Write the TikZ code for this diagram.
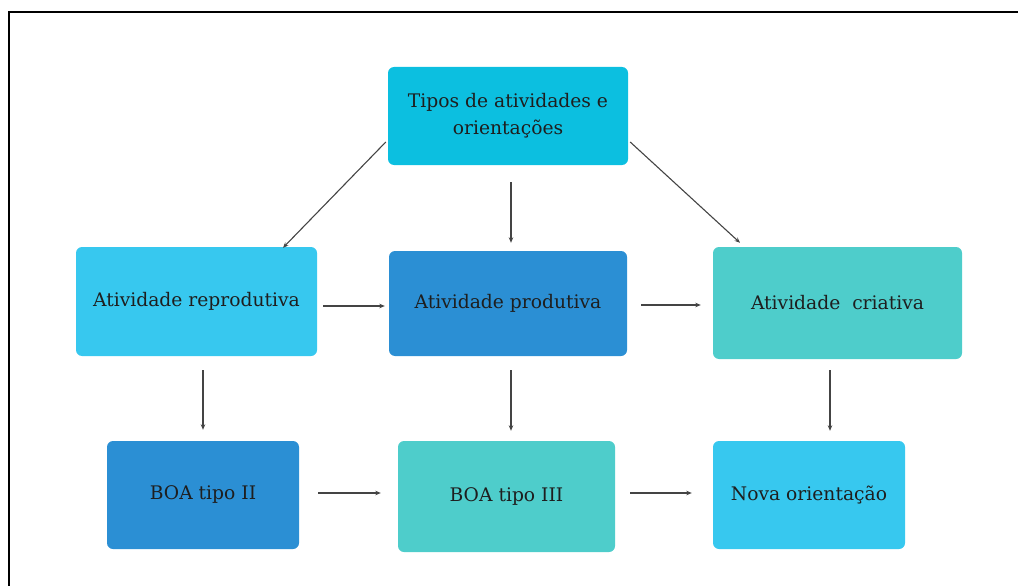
\documentclass[tikz,border=0pt]{standalone}
\usepackage{fontspec}
\setmainfont{DejaVu Serif}
\usetikzlibrary{calc,arrows.meta}
\definecolor{cTop}{HTML}{0CBFE0}
\definecolor{cLight}{HTML}{37C8EF}
\definecolor{cDark}{HTML}{2B8FD4}
\definecolor{cTeal}{HTML}{4ECDCB}
\definecolor{cText}{HTML}{1E1E1E}
\definecolor{cArrow}{HTML}{444444}
\tikzset{
  box/.style={rectangle, rounded corners=6pt, draw=none, align=center,
    text=cText, font=\fontsize{18.7}{27}\selectfont, inner sep=2pt},
  conn/.style={draw=cArrow, line width=1.1pt, -{Stealth[length=5.5pt,width=4.5pt]}}
}
\begin{document}
\begin{tikzpicture}[x=1pt,y=-1pt]
\useasboundingbox (0,0) rectangle (1018,586);
\draw[line width=2pt, black] (9,586) -- (9,12) -- (1018,12);

\node[box, fill=cTop, minimum width=240pt, minimum height=98pt] (top) at (508,116) {Tipos de atividades e\\orientações};
\node[box, fill=cLight, minimum width=241pt, minimum height=109pt] (rep) at (196.5,301.5) {Atividade reprodutiva};
\node[box, fill=cDark, minimum width=238pt, minimum height=105pt] (pro) at (508,303.5) {Atividade produtiva};
\node[box, fill=cTeal, minimum width=249pt, minimum height=112pt] (cri) at (837.5,303) {Atividade\ \ criativa};
\node[box, fill=cDark, minimum width=192pt, minimum height=108pt] (b2) at (203,495) {BOA tipo II};
\node[box, fill=cTeal, minimum width=217pt, minimum height=111pt] (b3) at (506.5,496.5) {BOA tipo III};
\node[box, fill=cLight, minimum width=192pt, minimum height=108pt] (nova) at (809,495) {Nova orientação};

\draw[conn] ($(top.west)+(-2,26)$) -- ($(rep.north)+(86.5,1)$);
\draw[conn] ($(top.south)+(3,17)$) -- ($(pro.north)+(3,-8)$);
\draw[conn] ($(top.east)+(2,26)$) -- ($(cri.north)+(-97.5,-4)$);
\draw[conn] ($(rep.east)+(6,4.5)$) -- ($(pro.west)+(-4,2.5)$);
\draw[conn] ($(pro.east)+(14,1.5)$) -- ($(cri.west)+(-12,2)$);
\draw[conn] ($(rep.south)+(6.5,14)$) -- ($(b2.north)+(0,-11)$);
\draw[conn] ($(pro.south)+(3,14)$) -- ($(b3.north)+(4.5,-10)$);
\draw[conn] ($(cri.south)+(-7.5,11)$) -- ($(nova.north)+(21,-10)$);
\draw[conn] ($(b2.east)+(19,-2)$) -- ($(b3.west)+(-17,-3.5)$);
\draw[conn] ($(b3.east)+(15,-3.5)$) -- ($(nova.west)+(-21,-2)$);
\end{tikzpicture}
\end{document}
